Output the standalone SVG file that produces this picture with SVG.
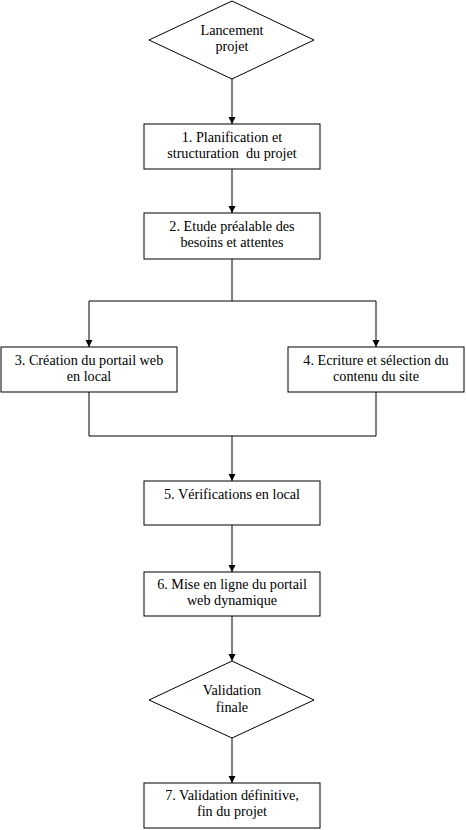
<svg xmlns="http://www.w3.org/2000/svg" width="466" height="830" viewBox="0 0 466 830" font-family="'Liberation Serif', 'Times New Roman', Times, serif" font-size="14">
<style>
.shape{fill:#fff;stroke:#000;stroke-width:1}
.line{fill:none;stroke:#000;stroke-width:1}
text{font-family:"Liberation Serif","Times New Roman",Times,serif;font-size:14.2px;fill:#000;text-anchor:middle}
</style>
<defs>
<marker id="arr" markerUnits="userSpaceOnUse" markerWidth="8" markerHeight="8" refX="7" refY="4" orient="auto">
<path d="M0,0.5 L7,4 L0,7.5 Z" fill="#000"/>
</marker>
</defs>
<rect width="466" height="830" fill="#fff"/>
<g id="connectors">
<path class="line" d="M232,79 V124" marker-end="url(#arr)"/>
<path class="line" d="M232,169 V213" marker-end="url(#arr)"/>
<path class="line" d="M232,259 V301 M89,301 H376"/>
<path class="line" d="M89,301 V347" marker-end="url(#arr)"/>
<path class="line" d="M376,301 V347" marker-end="url(#arr)"/>
<path class="line" d="M89,392 V436 H376 V392"/>
<path class="line" d="M232,436 V481" marker-end="url(#arr)"/>
<path class="line" d="M232,525 V572" marker-end="url(#arr)"/>
<path class="line" d="M232,616 V661" marker-end="url(#arr)"/>
<path class="line" d="M232,738 V783" marker-end="url(#arr)"/>
</g>
<g id="start">
<polygon class="shape" points="232,1 314,40 232,79 149,40"/>
<text x="232" y="35">Lancement</text>
<text x="232" y="51">projet</text>
</g>
<g id="step1">
<rect class="shape" x="144" y="124" width="176" height="45"/>
<text x="232" y="142">1. Planification et</text>
<text x="232" y="158" xml:space="preserve">structuration  du projet</text>
</g>
<g id="step2">
<rect class="shape" x="144" y="213" width="176" height="46"/>
<text x="232" y="231">2. Etude préalable des</text>
<text x="232" y="247">besoins et attentes</text>
</g>
<g id="step3">
<rect class="shape" x="1" y="347" width="176" height="45"/>
<text x="89" y="365">3. Création du portail web</text>
<text x="89" y="381">en local</text>
</g>
<g id="step4">
<rect class="shape" x="288" y="347" width="176" height="45"/>
<text x="376" y="365">4. Ecriture et sélection du</text>
<text x="376" y="381">contenu du site</text>
</g>
<g id="step5">
<rect class="shape" x="144" y="481" width="176" height="44"/>
<text x="232" y="499">5. Vérifications en local</text>
</g>
<g id="step6">
<rect class="shape" x="144" y="572" width="176" height="44"/>
<text x="232" y="589">6. Mise en ligne du portail</text>
<text x="232" y="605">web dynamique</text>
</g>
<g id="validation">
<polygon class="shape" points="232,661 314,700 232,738 149,700"/>
<text x="232" y="695">Validation</text>
<text x="232" y="712">finale</text>
</g>
<g id="step7">
<rect class="shape" x="144" y="783" width="176" height="45"/>
<text x="232" y="800">7. Validation définitive,</text>
<text x="232" y="816">fin du projet</text>
</g>
</svg>
